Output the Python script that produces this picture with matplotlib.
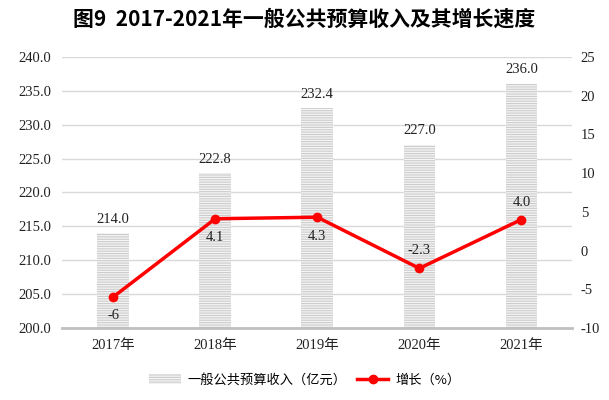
import matplotlib
matplotlib.use("Agg")
import matplotlib.pyplot as plt

plt.rcParams['font.family'] = ['Liberation Serif', 'Noto Sans CJK SC', 'DejaVu Sans']
plt.rcParams['hatch.linewidth'] = 0.8
plt.rcParams['axes.unicode_minus'] = False

years = ['2017年', '2018年', '2019年', '2020年', '2021年']
revenue = [214.0, 222.8, 232.4, 227.0, 236.0]
growth = [-6, 4.1, 4.3, -2.3, 4.0]
growth_labels = ['-6', '4.1', '4.3', '-2.3', '4.0']
growth_below = [True, True, True, False, False]

fig = plt.figure(figsize=(6.09, 4.0), dpi=100)
ax = fig.add_axes([0.102, 0.18, 0.838, 0.678])
x = list(range(len(years)))

bars = ax.bar(x, [v - 200 for v in revenue], bottom=200, width=0.31,
              color='#f4f4f4', edgecolor='#cccccc', hatch='-------', linewidth=0,
              label='一般公共预算收入（亿元）', zorder=2)
for xi, v in zip(x, revenue):
    ax.text(xi, v + 1.1, f'{v:.1f}', ha='center', va='bottom', fontsize=10.5, color='#222222')

ax.set_ylim(200, 240)
ax.set_yticks(range(200, 241, 5))
ax.set_yticklabels([f'{v:.1f}' for v in range(200, 241, 5)])
ax.set_xlim(-0.5, 4.5)
ax.set_xticks(x)
ax.set_xticklabels(years)
ax.grid(axis='y', color='#d9d9d9', linewidth=1, zorder=0)
ax.set_axisbelow(True)
for s in ['top', 'right', 'left']:
    ax.spines[s].set_visible(False)
ax.spines['bottom'].set_color('#bfbfbf')
ax.spines['bottom'].set_linewidth(2)
ax.tick_params(axis='both', length=0, labelsize=10.5, colors='#222222', pad=8)

ax2 = ax.twinx()
line, = ax2.plot(x, growth, color='#ff0000', linewidth=2.5, marker='o', markersize=6,
                 label='增长（%）', zorder=3)
for xi, g, lab, below in zip(x, growth, growth_labels, growth_below):
    if below:
        ax2.text(xi, g - 1.6, lab, ha='center', va='top', fontsize=10.5, color='#222222')
    else:
        ax2.text(xi, g + 1.4, lab, ha='center', va='bottom', fontsize=10.5, color='#222222')
ax2.set_ylim(-10, 25)
ax2.set_yticks(range(-10, 26, 5))
for s in ['top', 'right', 'left', 'bottom']:
    ax2.spines[s].set_visible(False)
ax2.tick_params(axis='y', length=0, labelsize=10.5, colors='#222222', pad=6)

fig.legend(handles=[bars, line], loc='center', bbox_to_anchor=(0.5, 0.05), ncol=2,
           frameon=False, handlelength=2.4, columnspacing=0.8, handletextpad=0.5,
           prop={'family': ['Noto Sans CJK SC', 'DejaVu Sans'], 'size': 9.5})

fig.text(0.5, 0.953, '图9  2017-2021年一般公共预算收入及其增长速度', ha='center', va='center',
         fontsize=15, fontweight='bold', family=['Noto Sans CJK SC', 'DejaVu Sans'])

fig.savefig('out.png', dpi=100)
